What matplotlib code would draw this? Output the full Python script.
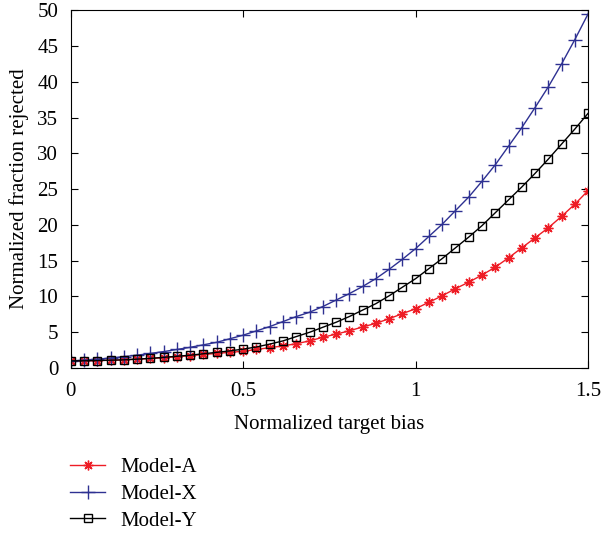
import matplotlib
matplotlib.use("Agg")
import matplotlib.pyplot as plt
import numpy as np

plt.rcParams['font.family'] = ['Liberation Serif', 'DejaVu Serif']
plt.rcParams['font.size'] = 15

# 40 marker positions across the normalized target bias range
bias = np.linspace(0, 1.5, 40)

model_a = [1.0, 1.02, 1.05, 1.1, 1.15, 1.25, 1.35, 1.45, 1.6, 1.75,
           1.9, 2.05, 2.2, 2.35, 2.6, 2.85, 3.1, 3.4, 3.8, 4.3,
           4.75, 5.2, 5.75, 6.25, 6.9, 7.6, 8.3, 9.2, 10.1, 11.1,
           12.0, 13.0, 14.1, 15.4, 16.8, 18.2, 19.6, 21.2, 22.9, 24.8]
model_x = [1.0, 1.1, 1.25, 1.4, 1.6, 1.8, 2.05, 2.3, 2.6, 2.9,
           3.25, 3.6, 4.1, 4.6, 5.2, 5.8, 6.5, 7.2, 7.8, 8.6,
           9.5, 10.4, 11.4, 12.5, 13.8, 15.2, 16.7, 18.4, 20.1, 22.0,
           23.9, 26.1, 28.4, 31.0, 33.6, 36.4, 39.3, 42.5, 45.9, 49.5]
model_y = [1.0, 1.02, 1.05, 1.1, 1.15, 1.25, 1.35, 1.5, 1.65, 1.8,
           2.0, 2.2, 2.4, 2.65, 2.95, 3.35, 3.8, 4.4, 5.0, 5.7,
           6.4, 7.2, 8.1, 9.0, 10.1, 11.3, 12.5, 13.9, 15.3, 16.8,
           18.3, 19.9, 21.7, 23.5, 25.3, 27.2, 29.2, 31.3, 33.4, 35.6]

fig = plt.figure(figsize=(6.02, 5.35), dpi=100)
ax = fig.add_axes([0.1175, 0.312, 0.8595, 0.669])

# (8, 2, 0) = eight-spoke asterisk, like the MATLAB '*'
ax.plot(bias, model_a, color='#ee1c25', marker=(8, 2, 0), markersize=7, mew=1, lw=1, label='Model-A')
ax.plot(bias, model_x, color='#2e3192', marker='+', markersize=10, mew=1, lw=1, label='Model-X')
ax.plot(bias, model_y, color='black', marker='s', markersize=6, mfc='none', mew=1, lw=1, label='Model-Y')

ax.set_xlim(0, 1.5)
ax.set_ylim(0, 50)
ax.set_xticks([0, 0.5, 1, 1.5])
ax.set_xticklabels(['0', '0.5', '1', '1.5'])
ax.set_yticks(range(0, 51, 5))
ax.tick_params(direction='in', top=True, right=True, length=5)
ax.tick_params(axis='x', pad=10)
ax.tick_params(axis='y', pad=9)
ax.set_xlabel('Normalized target bias', labelpad=10)
ax.set_ylabel('Normalized fraction rejected', labelpad=6)

fig.legend(loc='upper left', bbox_to_anchor=(0.085, 0.18), frameon=False,
           handlelength=1.7, handletextpad=0.7, labelspacing=0.35)

fig.savefig('out.png', dpi=100)
